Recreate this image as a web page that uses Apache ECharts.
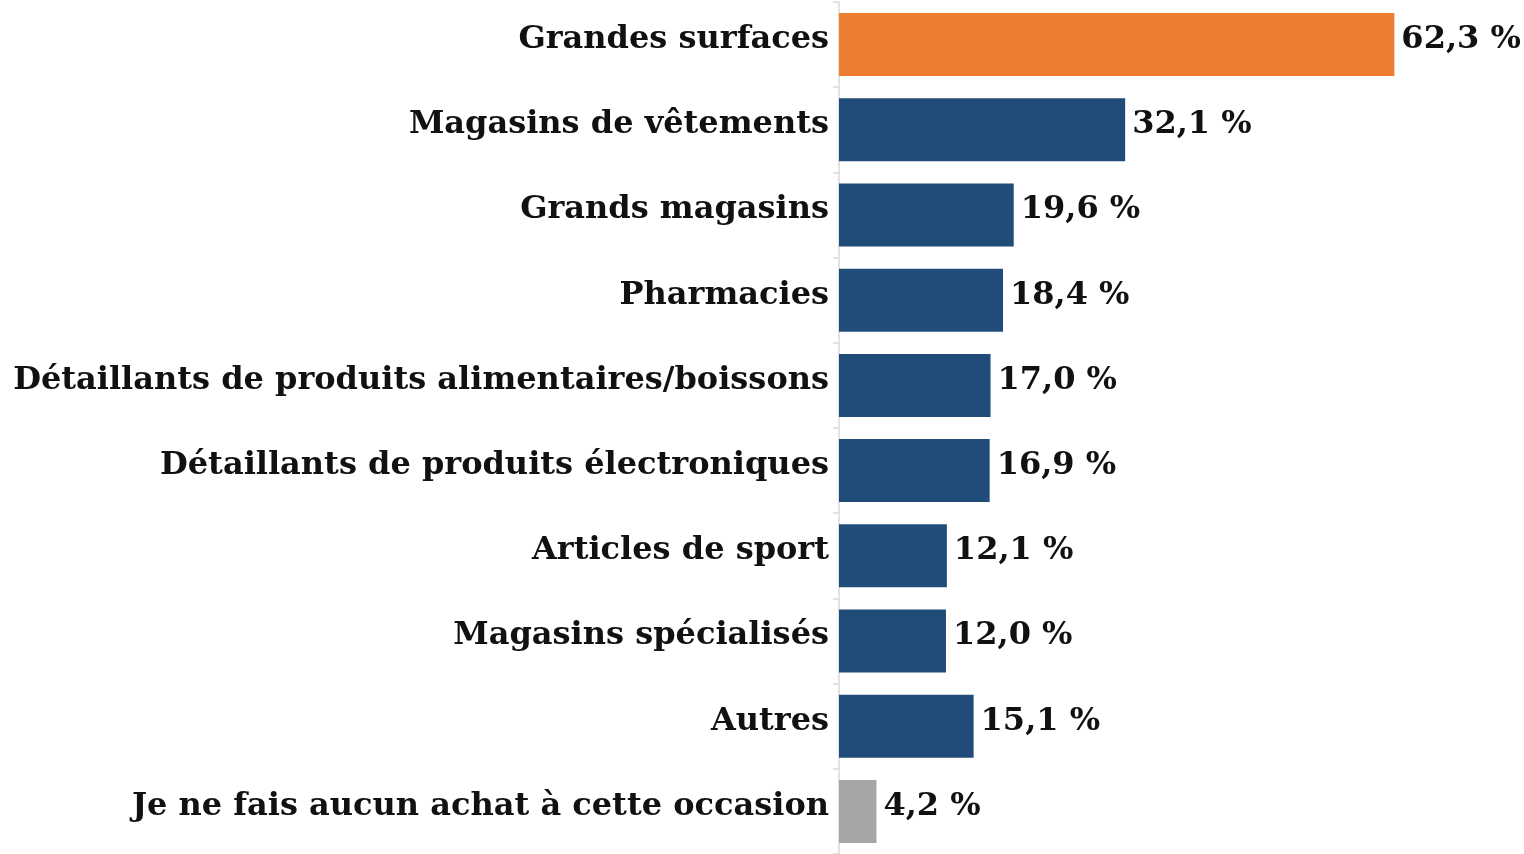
<!DOCTYPE html>
<html>
<head>
<meta charset="utf-8">
<style>
  html, body { margin: 0; padding: 0; background: #ffffff; }
  #chart { width: 1524px; height: 854px; }
</style>
<script src="https://cdn.jsdelivr.net/npm/echarts@6/dist/echarts.min.js"></script>
</head>
<body>
<div id="chart"></div>
<script>
// Lieux d'achat (en % des répondants)
const categories = [
  "Grandes surfaces",
  "Magasins de vêtements",
  "Grands magasins",
  "Pharmacies",
  "Détaillants de produits alimentaires/boissons",
  "Détaillants de produits électroniques",
  "Articles de sport",
  "Magasins spécialisés",
  "Autres",
  "Je ne fais aucun achat à cette occasion"
];
const values = [62.3, 32.1, 19.6, 18.4, 17.0, 16.9, 12.1, 12.0, 15.1, 4.2];
const barColors = [
  "#ED7D31", "#214B78", "#214B78", "#214B78", "#214B78",
  "#214B78", "#214B78", "#214B78", "#214B78", "#A6A6A6"
];

const FONT = '"DejaVu Serif", "Liberation Serif", serif';

const chart = echarts.init(document.getElementById('chart'), null, { renderer: 'canvas' });

chart.setOption({
  backgroundColor: '#ffffff',
  animation: false,
  grid: { left: 839, right: 61, top: 2, bottom: 0, containLabel: false },
  xAxis: {
    type: 'value',
    min: 0,
    max: 70,
    show: false
  },
  yAxis: {
    type: 'category',
    inverse: true,
    data: categories,
    axisLine: { show: true, lineStyle: { color: '#d9d9d9', width: 1.5 } },
    axisTick: { show: true, length: 6, lineStyle: { color: '#d9d9d9', width: 1.5 } },
    axisLabel: {
      margin: 10,
      color: '#111111',
      formatter: v => '{t|' + v + '}',
      rich: {
        t: {
          fontFamily: FONT,
          fontWeight: 'bold',
          fontSize: 32,
          color: '#111111',
          padding: [0, 0, 10, 0]
        }
      }
    },
    splitLine: { show: false }
  },
  series: [{
    type: 'bar',
    barWidth: 63,
    data: values.map((v, i) => ({ value: v, itemStyle: { color: barColors[i] } })),
    label: {
      show: true,
      position: 'right',
      distance: 7,
      offset: [0, -5],
      color: '#111111',
      fontFamily: FONT,
      fontWeight: 'bold',
      fontSize: 32,
      formatter: p => p.value.toFixed(1).replace('.', ',') + ' %'
    }
  }]
});
</script>
</body>
</html>
